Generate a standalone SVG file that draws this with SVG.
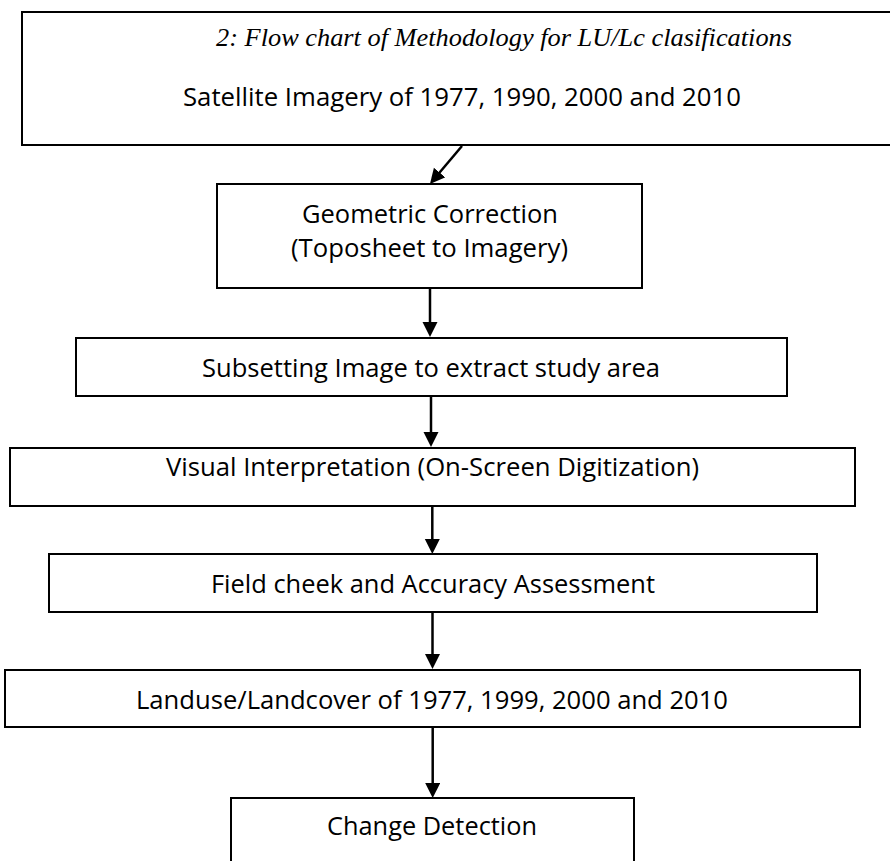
<svg xmlns="http://www.w3.org/2000/svg" width="890" height="861" viewBox="0 0 890 861">
<style>
.box{fill:#fff;stroke:#000;stroke-width:2}
.lbl{font-family:"Open Sans","Liberation Sans",sans-serif;font-size:26px;fill:#000}
.ttl{font-family:"Liberation Serif","Times New Roman",serif;font-style:italic;font-size:26px;fill:#000}
.conn{stroke:#000;stroke-width:2.5;fill:none;marker-end:url(#ah)}
</style>
<defs>
<marker id="ah" markerUnits="userSpaceOnUse" markerWidth="16" markerHeight="16" refX="3" refY="7.5" orient="auto">
<path d="M0,0 L15,7.5 L0,15 z" fill="#000"/>
</marker>
</defs>
<rect width="890" height="861" fill="#fff"/>
<g id="n1">
<rect class="box" x="22" y="12" width="880" height="133"/>
<text class="ttl" x="216" y="46" textLength="576" lengthAdjust="spacingAndGlyphs">2: Flow chart of Methodology for LU/Lc clasifications</text>
<text class="lbl" x="183" y="106" textLength="558" lengthAdjust="spacingAndGlyphs">Satellite Imagery of 1977, 1990, 2000 and 2010</text>
</g>
<g id="n2">
<rect class="box" x="217" y="184" width="425" height="104"/>
<text class="lbl" x="302" y="223" textLength="256" lengthAdjust="spacingAndGlyphs">Geometric Correction</text>
<text class="lbl" x="291" y="257" textLength="277" lengthAdjust="spacingAndGlyphs">(Toposheet to Imagery)</text>
</g>
<g id="n3">
<rect class="box" x="76" y="338" width="711" height="58"/>
<text class="lbl" x="202" y="377" textLength="458" lengthAdjust="spacingAndGlyphs">Subsetting Image to extract study area</text>
</g>
<g id="n4">
<rect class="box" x="10" y="448" width="845" height="58"/>
<text class="lbl" x="166" y="476" textLength="533" lengthAdjust="spacingAndGlyphs">Visual Interpretation (On-Screen Digitization)</text>
</g>
<g id="n5">
<rect class="box" x="49" y="554" width="768" height="58"/>
<text class="lbl" x="211" y="593" textLength="444" lengthAdjust="spacingAndGlyphs">Field cheek and Accuracy Assessment</text>
</g>
<g id="n6">
<rect class="box" x="5" y="670" width="855" height="57"/>
<text class="lbl" x="136" y="709" textLength="592" lengthAdjust="spacingAndGlyphs">Landuse/Landcover of 1977, 1999, 2000 and 2010</text>
</g>
<g id="n7">
<rect class="box" x="231" y="798" width="403" height="75"/>
<text class="lbl" x="327" y="835" textLength="210" lengthAdjust="spacingAndGlyphs">Change Detection</text>
</g>
<g id="connectors">
<line class="conn" x1="462" y1="146" x2="437.7" y2="174.8"/>
<line class="conn" x1="430" y1="289" x2="430" y2="325"/>
<line class="conn" x1="431" y1="397" x2="431" y2="435"/>
<line class="conn" x1="432.3" y1="507" x2="432.3" y2="542"/>
<line class="conn" x1="432.5" y1="613" x2="432.5" y2="657"/>
<line class="conn" x1="432.7" y1="728" x2="432.7" y2="786"/>
</g>
</svg>
